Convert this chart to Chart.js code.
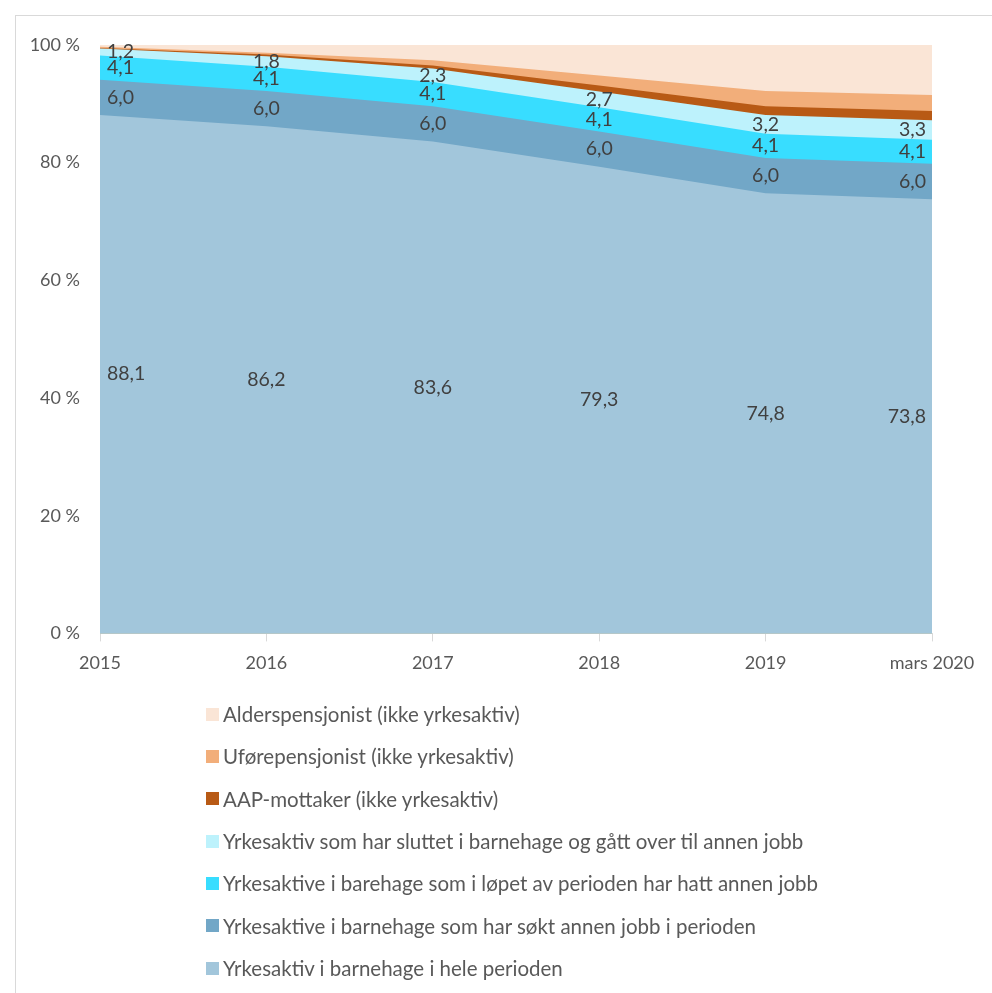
<!DOCTYPE html>
<html>
<head>
<meta charset="utf-8">
<script src="https://cdn.jsdelivr.net/npm/chart.js@4.4.1/dist/chart.umd.min.js"></script>
<style>
    body { margin: 0; background: #fff; font-family: Lato, sans-serif; }
    #frame { position: absolute; left: 15px; top: 15px; width: 1000px; height: 1000px; border: 1px solid #d9d9d9; box-sizing: border-box; }
    #wrap { position: absolute; left: 0; top: 0; width: 992px; height: 695px; }
    #legend { position: absolute; left: 206px; top: 693px; margin: 0; padding: 0; list-style: none; }
    #legend li { height: 42.33px; display: flex; align-items: center; font-size: 20.5px; color: #595959; }
    #legend span.box { display: inline-block; width: 13px; height: 13px; margin-right: 4px; }
</style>
</head>
<body>
<div id="frame"></div>
<div id="wrap"><canvas id="chart"></canvas></div>
<ul id="legend"></ul>
<script>
// Categories
const years = ["2015", "2016", "2017", "2018", "2019", "mars 2020"];

// Series values (percent), bottom layer first
const heleperioden = [88.1, 86.2, 83.6, 79.3, 74.8, 73.8];
const soktAnnen = [6.0, 6.0, 6.0, 6.0, 6.0, 6.0];
const hattAnnen = [4.1, 4.1, 4.1, 4.1, 4.1, 4.1];
const sluttet = [1.2, 1.8, 2.3, 2.7, 3.2, 3.3];
const aap = [0.1, 0.3, 0.5, 1.0, 1.5, 1.6];
const ufore = [0.2, 0.3, 0.9, 1.7, 2.6, 2.7];
const alders = [0.3, 1.3, 2.6, 5.2, 7.8, 8.5];

const yTicks = [0, 20, 40, 60, 80, 100];

function series(label, data, color, showLabels) {
    return {
        label: label,
        data: data,
        backgroundColor: color,
        borderColor: color,
        borderWidth: 0,
        pointRadius: 0,
        fill: true,
        tension: 0,
        showLabels: showLabels
    };
}

const datasets = [
    series("Yrkesaktiv i barnehage i hele perioden", heleperioden, "#a2c6db", true),
    series("Yrkesaktive i barnehage som har søkt annen jobb i perioden", soktAnnen, "#72a7c7", true),
    series("Yrkesaktive i barehage som i løpet av perioden har hatt annen jobb", hattAnnen, "#38ddff", true),
    series("Yrkesaktiv som har sluttet i barnehage og gått over til annen jobb", sluttet, "#bdf2fc", true),
    series("AAP-mottaker (ikke yrkesaktiv)", aap, "#b85a15", false),
    series("Uførepensjonist (ikke yrkesaktiv)", ufore, "#f2ae7a", false),
    series("Alderspensjonist (ikke yrkesaktiv)", alders, "#fae5d6", false)
];

// Draws value labels in the middle of each band
const bandLabels = {
    id: "bandLabels",
    afterDatasetsDraw(chart) {
        const ctx = chart.ctx;
        const xs = chart.scales.x;
        const ys = chart.scales.y;
        const area = chart.chartArea;
        ctx.save();
        ctx.font = "19.5px Lato";
        ctx.fillStyle = "#404040";
        ctx.textAlign = "center";
        ctx.textBaseline = "middle";
        const sums = years.map(() => 0);
        chart.data.datasets.forEach((ds) => {
            ds.data.forEach((v, i) => {
                if (ds.showLabels) {
                    const text = v.toFixed(1).replace(".", ",");
                    const w = ctx.measureText(text).width;
                    let x = xs.getPixelForValue(i);
                    x = Math.max(area.left + 7 + w / 2, Math.min(area.right - 6 - w / 2, x));
                    const y = ys.getPixelForValue(sums[i] + v / 2);
                    ctx.fillText(text, x, y);
                }
                sums[i] += v;
            });
        });
        ctx.restore();
    }
};

const chart = new Chart(document.getElementById("chart"), {
    type: "line",
    data: { labels: years, datasets: datasets },
    plugins: [bandLabels],
    options: {
        responsive: true,
        maintainAspectRatio: false,
        animation: false,
        layout: { padding: { left: 20, right: 60, top: 45, bottom: 10 } },
        plugins: {
            legend: { display: false },
            tooltip: { enabled: false }
        },
        scales: {
            x: {
                offset: false,
                grid: { display: true, drawOnChartArea: false, color: "#d9d9d9", tickLength: 8 },
                border: { color: "#d9d9d9" },
                ticks: { color: "#595959", font: { family: "Lato", size: 18 }, maxRotation: 0, autoSkip: false, padding: 11 }
            },
            y: {
                stacked: true,
                min: 0,
                max: 100,
                afterBuildTicks(scale) { scale.ticks = yTicks.map(v => ({ value: v })); },
                afterFit(scale) { scale.width = 80; },
                grid: { color: "#d9d9d9", drawTicks: false },
                border: { display: false },
                ticks: {
                    color: "#595959",
                    font: { family: "Lato", size: 18 },
                    padding: 20,
                    callback: v => v + " %"
                }
            }
        }
    }
});

// Legend, top layer first
const el_legend = document.getElementById("legend");
datasets.slice().reverse().forEach((ds) => {
    const li = document.createElement("li");
    const box = document.createElement("span");
    box.className = "box";
    box.style.background = ds.backgroundColor;
    li.appendChild(box);
    li.appendChild(document.createTextNode(ds.label));
    el_legend.appendChild(li);
});
</script>
</body>
</html>
